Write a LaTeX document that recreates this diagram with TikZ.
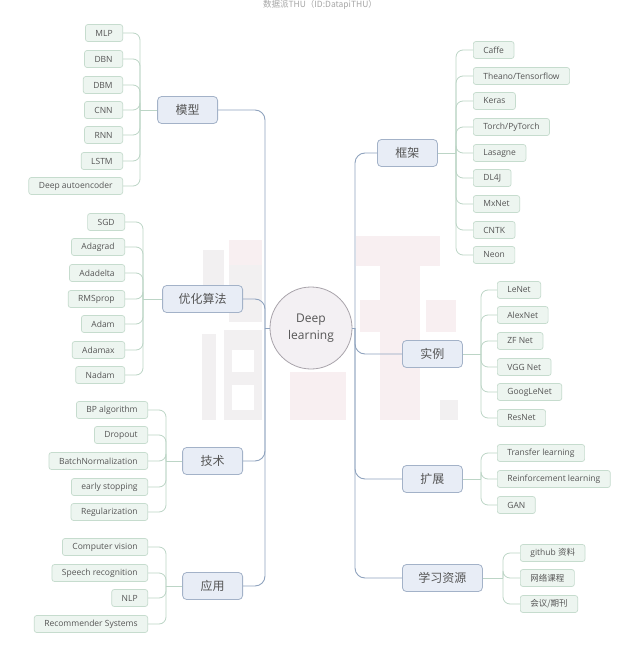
\documentclass[tikz,border=0pt]{standalone}
\usepackage{fontspec}
\setmainfont{Open Sans}
\newfontfamily\cjk{Noto Sans CJK SC}
\definecolor{leaffill}{HTML}{EDF5F0}
\definecolor{leafdraw}{HTML}{C6DCCE}
\definecolor{mainfill}{HTML}{E8EDF6}
\definecolor{maindraw}{HTML}{A3B2C8}
\definecolor{trunkc}{HTML}{8FA3BE}
\definecolor{twigc}{HTML}{BCD5C6}
\definecolor{txt}{HTML}{555555}
\definecolor{rootfill}{HTML}{F3F0F3}
\definecolor{rootdraw}{HTML}{A9A4AB}
\definecolor{wmgray}{HTML}{F2F0F1}
\definecolor{wmpink}{HTML}{F8EFF1}
\begin{document}
\begin{tikzpicture}[x=1pt,y=-1pt,
  leaf/.style={draw=leafdraw, fill=leaffill, rounded corners=2.5pt, minimum height=17pt,
    inner xsep=10pt, inner ysep=0pt, font=\fontsize{8.5}{9}\selectfont, text=txt, line width=0.7pt},
  mainbox/.style={draw=maindraw, fill=mainfill, rounded corners=4pt, minimum height=27pt,
    minimum width=60pt, inner xsep=16pt, font=\cjk\fontsize{12}{14}\selectfont, text=txt, line width=0.8pt},
  trunk/.style={draw=trunkc, line width=0.9pt, rounded corners=10pt},
  twig/.style={draw=twigc, line width=0.8pt, rounded corners=7pt},
  wm/.style={fill=wmgray, draw=none},
  wmp/.style={fill=wmpink, draw=none}]
\useasboundingbox (0,0) rectangle (640,658);
\fill[white] (0,0) rectangle (640,658);

% watermark (faint)
\fill[wm] (203,250) rectangle (224,300);
\fill[wmp] (229,240) rectangle (262,265);
\fill[wm] (229,265) rectangle (262,322);
\fill[wm] (202,334) rectangle (216,420);
\fill[wm] (224,330) rectangle (262,420);
\fill[white] (232,350) rectangle (254,372);
\fill[white] (232,385) rectangle (254,410);
\fill[wmp] (290,372) rectangle (346,420);
\fill[wmp] (356,236) rectangle (440,266);
\fill[wmp] (380,266) rectangle (420,420);
\fill[wmp] (426,300) rectangle (456,332);
\fill[wmp] (360,300) rectangle (380,332);
\fill[wm] (440,400) rectangle (458,420);

% header
\node[font=\cjk\fontsize{8.5}{9}\selectfont, text=black!35] (hdr) at (320,5) {数据派THU（ID:DatapiTHU）};

% root
\node[circle, draw=rootdraw, fill=rootfill, minimum size=82pt, inner sep=0pt, line width=0.8pt,
  align=center, font=\fontsize{12}{17}\selectfont, text=txt] (root) at (311,328) {Deep\\learning};

% main nodes
\node[mainbox, anchor=east] (mx) at (218,110) {模型};
\node[mainbox, anchor=east] (yh) at (243,299) {优化算法};
\node[mainbox, anchor=east] (js) at (243,461) {技术};
\node[mainbox, anchor=east] (yy) at (243,586) {应用};
\node[mainbox, anchor=west] (kj) at (377,153) {框架};
\node[mainbox, anchor=west] (sl) at (402,354) {实例};
\node[mainbox, anchor=west] (kz) at (402,479) {扩展};
\node[mainbox, anchor=west] (xx) at (402,578) {学习资源};

% trunks
\coordinate (LJ) at (265,328);
\coordinate (RJ) at (355,328);
\draw[trunk] (root.west) -- (LJ);
\draw[trunk] (root.east) -- (RJ);
\foreach \m in {mx,yh,js,yy} \draw[trunk] (LJ) |- (\m.east);
\foreach \m in {kj,sl,kz,xx} \draw[trunk] (RJ) |- (\m.west);

% leaves: 模型
\node[leaf, anchor=east] (a1) at (123,33) {MLP};
\node[leaf, anchor=east] (a2) at (123,59) {DBN};
\node[leaf, anchor=east] (a3) at (123,85) {DBM};
\node[leaf, anchor=east] (a4) at (123,110) {CNN};
\node[leaf, anchor=east] (a5) at (123,135) {RNN};
\node[leaf, anchor=east] (a6) at (123,161) {LSTM};
\node[leaf, anchor=east] (a7) at (123,186) {Deep autoencoder};
\coordinate (aJ) at (140,110);
\draw[twig] (mx.west) -- (aJ);
\foreach \l in {a1,a2,a3,a4,a5,a6,a7} \draw[twig] (aJ) |- (\l.east);

% leaves: 优化算法
\node[leaf, anchor=east] (b1) at (125,222) {SGD};
\node[leaf, anchor=east] (b2) at (125,247) {Adagrad};
\node[leaf, anchor=east] (b3) at (125,273) {Adadelta};
\node[leaf, anchor=east] (b4) at (125,299) {RMSprop};
\node[leaf, anchor=east] (b5) at (125,324) {Adam};
\node[leaf, anchor=east] (b6) at (125,350) {Adamax};
\node[leaf, anchor=east] (b7) at (125,375) {Nadam};
\coordinate (bJ) at (143,299);
\draw[twig] (yh.west) -- (bJ);
\foreach \l in {b1,b2,b3,b4,b5,b6,b7} \draw[twig] (bJ) |- (\l.east);

% leaves: 技术
\node[leaf, anchor=east] (c1) at (148,410) {BP algorithm};
\node[leaf, anchor=east] (c2) at (148,435) {Dropout};
\node[leaf, anchor=east] (c3) at (148,461) {BatchNormalization};
\node[leaf, anchor=east] (c4) at (148,487) {early stopping};
\node[leaf, anchor=east] (c5) at (148,512) {Regularization};
\coordinate (cJ) at (166,461);
\draw[twig] (js.west) -- (cJ);
\foreach \l in {c1,c2,c3,c4,c5} \draw[twig] (cJ) |- (\l.east);

% leaves: 应用
\node[leaf, anchor=east] (d1) at (148,547) {Computer vision};
\node[leaf, anchor=east] (d2) at (148,573) {Speech recognition};
\node[leaf, anchor=east] (d3) at (148,598) {NLP};
\node[leaf, anchor=east] (d4) at (148,624) {Recommender Systems};
\coordinate (dJ) at (166,586);
\draw[twig] (yy.west) -- (dJ);
\foreach \l in {d1,d2,d3,d4} \draw[twig] (dJ) |- (\l.east);

% leaves: 框架
\node[leaf, anchor=west] (e1) at (473,50) {Caffe};
\node[leaf, anchor=west] (e2) at (473,76) {Theano/Tensorflow};
\node[leaf, anchor=west] (e3) at (473,101) {Keras};
\node[leaf, anchor=west] (e4) at (473,127) {Torch/PyTorch};
\node[leaf, anchor=west] (e5) at (473,153) {Lasagne};
\node[leaf, anchor=west] (e6) at (473,178) {DL4J};
\node[leaf, anchor=west] (e7) at (473,204) {MxNet};
\node[leaf, anchor=west] (e8) at (473,230) {CNTK};
\node[leaf, anchor=west] (e9) at (473,255) {Neon};
\coordinate (eJ) at (456,153);
\draw[twig] (kj.east) -- (eJ);
\foreach \l in {e1,e2,e3,e4,e5,e6,e7,e8,e9} \draw[twig] (eJ) |- (\l.west);

% leaves: 实例
\node[leaf, anchor=west] (f1) at (497,290) {LeNet};
\node[leaf, anchor=west] (f2) at (497,315) {AlexNet};
\node[leaf, anchor=west] (f3) at (497,341) {ZF Net};
\node[leaf, anchor=west] (f4) at (497,367) {VGG Net};
\node[leaf, anchor=west] (f5) at (497,392) {GoogLeNet};
\node[leaf, anchor=west] (f6) at (497,418) {ResNet};
\coordinate (fJ) at (481,354);
\draw[twig] (sl.east) -- (fJ);
\foreach \l in {f1,f2,f3,f4,f5,f6} \draw[twig] (fJ) |- (\l.west);

% leaves: 扩展
\node[leaf, anchor=west] (g1) at (497,453) {Transfer learning};
\node[leaf, anchor=west] (g2) at (497,479) {Reinforcement learning};
\node[leaf, anchor=west] (g3) at (497,505) {GAN};
\coordinate (gJ) at (481,479);
\draw[twig] (kz.east) -- (gJ);
\foreach \l in {g1,g2,g3} \draw[twig] (gJ) |- (\l.west);

% leaves: 学习资源
\node[leaf, anchor=west] (h1) at (520,553) {github {\cjk 资料}};
\node[leaf, anchor=west, font=\cjk\fontsize{8.5}{9}\selectfont] (h2) at (520,578) {网络课程};
\node[leaf, anchor=west, font=\cjk\fontsize{8.5}{9}\selectfont] (h3) at (520,604) {会议/期刊};
\coordinate (hJ) at (503,578);
\draw[twig] (xx.east) -- (hJ);
\foreach \l in {h1,h2,h3} \draw[twig] (hJ) |- (\l.west);
\end{tikzpicture}
\end{document}
